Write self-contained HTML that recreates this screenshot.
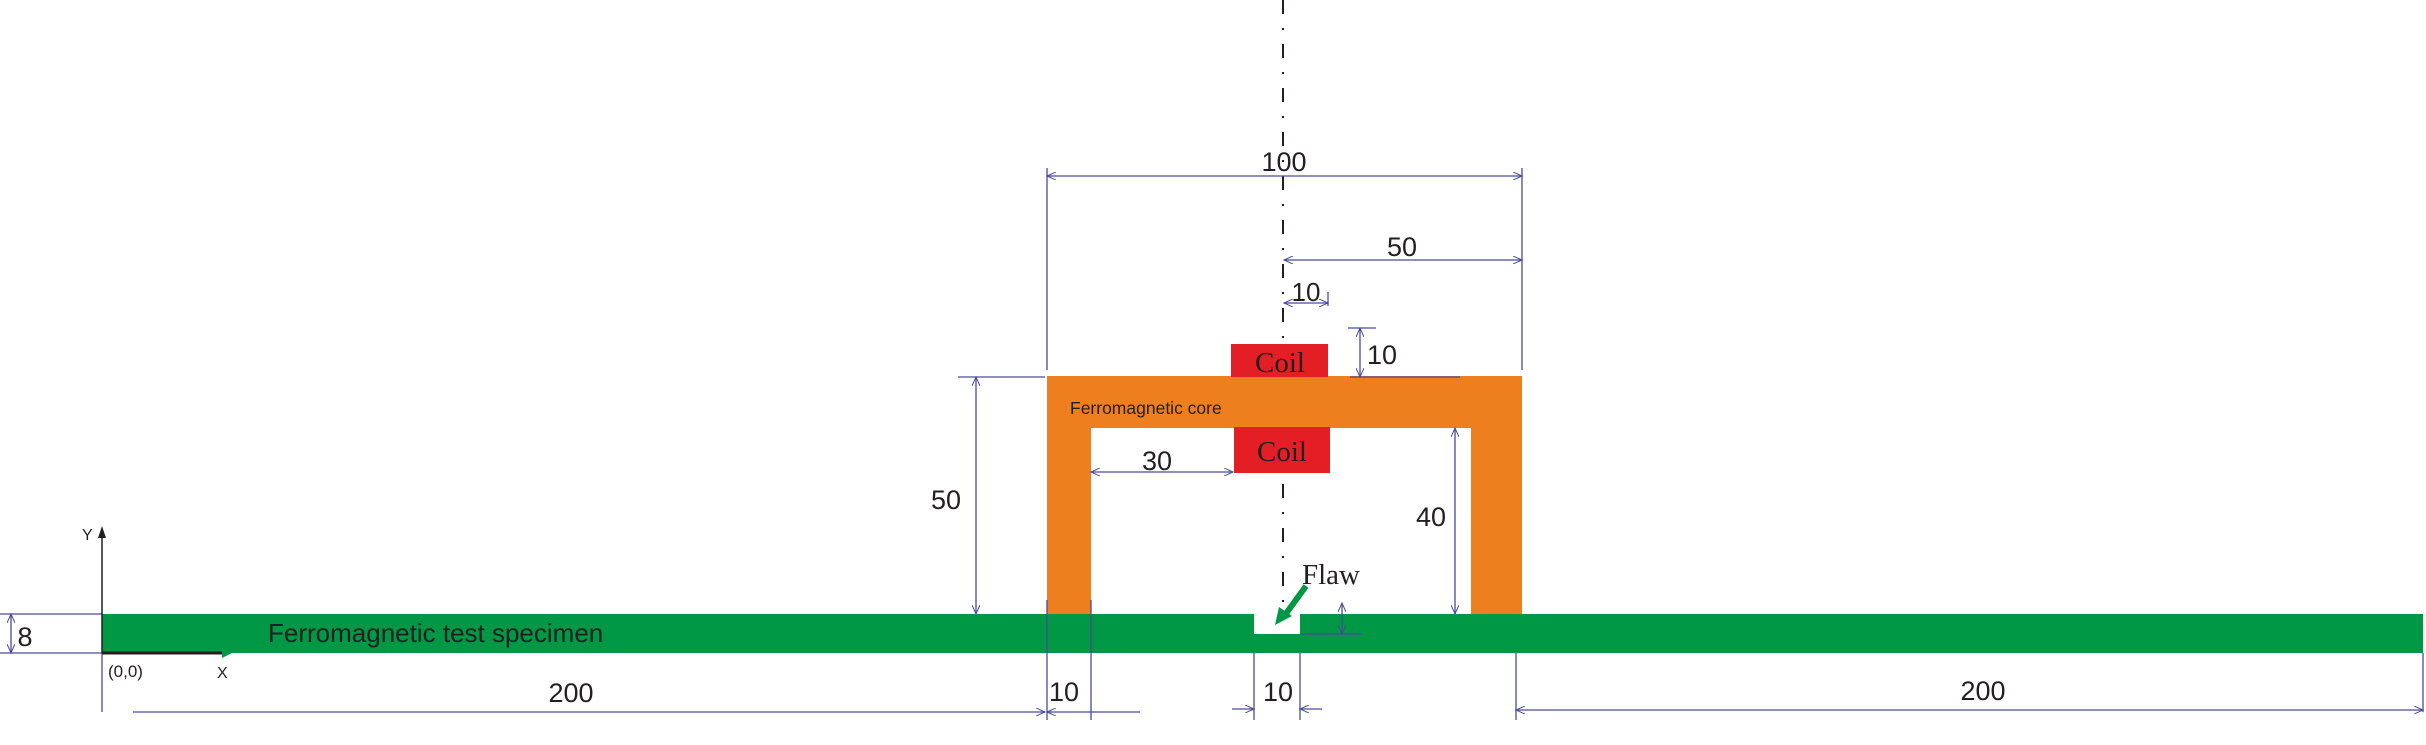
<!DOCTYPE html>
<html><head><meta charset="utf-8"><style>
html,body{margin:0;padding:0;background:#fff;}
svg{display:block;}
text{font-family:"Liberation Sans",sans-serif;fill:#231f20;}
</style></head><body>
<svg width="2426" height="745" viewBox="0 0 2426 745" xmlns="http://www.w3.org/2000/svg">
<defs>
<marker id="ar" markerWidth="10" markerHeight="8" refX="9" refY="4" orient="auto-start-reverse" markerUnits="userSpaceOnUse">
<path d="M0,0 L9,4 L0,8" fill="none" stroke="#4a4a9a" stroke-width="1"/></marker>
</defs>
<line x1="1283" y1="0" x2="1283" y2="612" stroke="#231f20" stroke-width="2" stroke-dasharray="14,14,2,14"/>
<rect x="102" y="614" width="2321" height="39" fill="#009845"/>
<rect x="1254" y="614" width="46" height="20" fill="#fff"/>
<text x="268" y="642" font-size="26">Ferromagnetic test specimen</text>
<path d="M1047,376 H1522 V614 H1471 V428 H1091 V614 H1047 Z" fill="#ee7f1f"/>
<text x="1070" y="414" font-size="17.5">Ferromagnetic core</text>
<rect x="1231" y="344" width="97" height="33" fill="#e31e25"/>
<text x="1280" y="372" font-size="29" text-anchor="middle" style="font-family:'Liberation Serif',serif">Coil</text>
<rect x="1234" y="427" width="96" height="46" fill="#e31e25"/>
<text x="1282" y="461" font-size="29" text-anchor="middle" style="font-family:'Liberation Serif',serif">Coil</text>
<text x="1302" y="584" font-size="29" style="font-family:'Liberation Serif',serif">Flaw</text>
<line x1="1306" y1="586" x2="1285" y2="615" stroke="#009845" stroke-width="6"/>
<path d="M1275,625 L1279,607 L1292,616 Z" fill="#009845"/>
<g stroke="#4a4a9a" stroke-width="1.3" fill="none">
<line x1="1047" y1="168" x2="1047" y2="370"/><line x1="1522" y1="168" x2="1522" y2="370"/>
<line x1="1047" y1="176" x2="1522" y2="176" marker-start="url(#ar)" marker-end="url(#ar)"/>
<line x1="1284" y1="260" x2="1522" y2="260" marker-start="url(#ar)" marker-end="url(#ar)"/>
<line x1="1328" y1="292" x2="1328" y2="306"/>
<line x1="1284" y1="303" x2="1328" y2="303" marker-start="url(#ar)" marker-end="url(#ar)"/>
<line x1="1348" y1="328" x2="1376" y2="328"/><line x1="1350" y1="377" x2="1460" y2="377"/>
<line x1="1360" y1="328" x2="1360" y2="377" marker-start="url(#ar)" marker-end="url(#ar)"/>
<line x1="958" y1="377" x2="1045" y2="377"/>
<line x1="976" y1="377" x2="976" y2="614" marker-start="url(#ar)" marker-end="url(#ar)"/>
<line x1="1455" y1="428" x2="1455" y2="614" marker-start="url(#ar)" marker-end="url(#ar)"/>
<line x1="1091" y1="472" x2="1233" y2="472" marker-start="url(#ar)" marker-end="url(#ar)"/>
<line x1="1342" y1="603" x2="1342" y2="634" marker-start="url(#ar)" marker-end="url(#ar)"/>
<line x1="1300" y1="634" x2="1362" y2="634"/>
<line x1="0" y1="614" x2="102" y2="614"/><line x1="0" y1="653" x2="102" y2="653"/>
<line x1="11" y1="614" x2="11" y2="653" marker-start="url(#ar)" marker-end="url(#ar)"/>
<line x1="102" y1="653" x2="102" y2="712"/><line x1="1047" y1="600" x2="1047" y2="720"/>
<line x1="1091" y1="600" x2="1091" y2="720"/><line x1="1254" y1="653" x2="1254" y2="720"/>
<line x1="1300" y1="653" x2="1300" y2="720"/><line x1="1516" y1="653" x2="1516" y2="720"/>
<line x1="2423" y1="653" x2="2423" y2="712"/>
<line x1="133" y1="712" x2="1045" y2="712" marker-end="url(#ar)"/>
<line x1="1047" y1="712" x2="1140" y2="712" marker-start="url(#ar)"/>
<line x1="1232" y1="709" x2="1254" y2="709" marker-end="url(#ar)"/><line x1="1300" y1="709" x2="1322" y2="709" marker-start="url(#ar)"/>
<line x1="1516" y1="710" x2="2423" y2="710" marker-start="url(#ar)" marker-end="url(#ar)"/>
</g>
<g stroke="#231f20" stroke-width="1.5">
<line x1="102" y1="653" x2="102" y2="530"/>
<line x1="102" y1="653" x2="226" y2="653" stroke-width="3"/>
</g>
<path d="M98,538 L102,526 L106,538 Z" fill="#231f20"/>
<path d="M222,648 L232,653 L222,658 Z" fill="#009845"/>
<text x="82" y="540" font-size="16">Y</text>
<text x="217" y="678" font-size="16">X</text>
<text x="108" y="677" font-size="17">(0,0)</text>
<g font-size="27" text-anchor="middle">
<text x="1284" y="171">100</text>
<text x="1402" y="256">50</text>
<text x="1306" y="301" font-size="26">10</text>
<text x="1382" y="364">10</text>
<text x="1157" y="470">30</text>
<text x="946" y="509">50</text>
<text x="1431" y="526">40</text>
<text x="25" y="646">8</text>
<text x="571" y="702">200</text>
<text x="1064" y="701">10</text>
<text x="1278" y="701">10</text>
<text x="1983" y="700">200</text>
</g>
</svg>
</body></html>
